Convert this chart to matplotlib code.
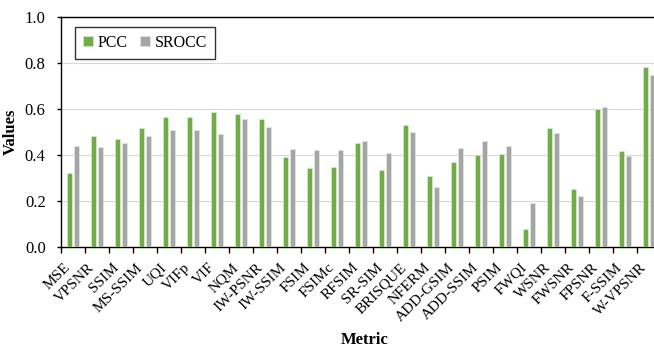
import numpy as np
import matplotlib.pyplot as plt
from matplotlib.ticker import FixedLocator

plt.rcParams["font.family"] = ["Liberation Serif", "DejaVu Serif"]

metrics = ["MSE", "VPSNR", "SSIM", "MS-SSIM", "UQI", "VIFp", "VIF", "NQM",
           "IW-PSNR", "IW-SSIM", "FSIM", "FSIMc", "RFSIM", "SR-SIM", "BRISQUE",
           "NFERM", "ADD-GSIM", "ADD-SSIM", "PSIM", "FWQI", "WSNR", "FWSNR",
           "FPSNR", "F-SSIM", "W-VPSNR"]
pcc = [0.320, 0.483, 0.471, 0.517, 0.564, 0.565, 0.587, 0.577, 0.558, 0.391,
       0.345, 0.346, 0.453, 0.335, 0.532, 0.307, 0.371, 0.400, 0.404, 0.078,
       0.517, 0.254, 0.601, 0.417, 0.783]
srocc = [0.440, 0.435, 0.452, 0.481, 0.510, 0.507, 0.491, 0.558, 0.522, 0.426,
         0.420, 0.423, 0.459, 0.410, 0.499, 0.259, 0.432, 0.459, 0.438, 0.193,
         0.496, 0.220, 0.607, 0.397, 0.748]

GREEN = "#70AD47"
GRAY = "#A5A5A5"

fig = plt.figure(figsize=(6.54, 3.48), dpi=100)
# 右侧略超出画布
ax = fig.add_axes([61 / 654, 101 / 348, 600 / 654, 230 / 348])

x = np.arange(len(metrics))
w = 0.24
ax.bar(x - 0.15, pcc, width=w, color=GREEN, edgecolor="#d9ecd0",
       linewidth=0.5, label="PCC", zorder=3)
ax.bar(x + 0.15, srocc, width=w, color=GRAY, edgecolor="#e6e6e6",
       linewidth=0.5, label="SROCC", zorder=3)

ax.set_xlim(-0.5, len(metrics) - 0.5)
ax.set_ylim(0, 1.0)
ax.set_yticks([0.0, 0.2, 0.4, 0.6, 0.8, 1.0])
ax.set_yticklabels(["0.0", "0.2", "0.4", "0.6", "0.8", "1.0"], fontsize=12)
ax.yaxis.grid(True, color="#d9d9d9", linewidth=0.8, zorder=0)

ax.set_xticks(x)
ax.set_xticklabels(metrics, rotation=45, ha="right", va="top", fontsize=11)
ax.tick_params(axis="x", which="major", length=0, pad=10)
ax.xaxis.set_minor_locator(FixedLocator(np.arange(-0.5, len(metrics), 1.0)))
ax.tick_params(axis="x", which="minor", length=4, width=1, direction="out")
ax.tick_params(axis="y", length=3, width=1, direction="out", pad=8)

for s in ["left", "bottom", "top"]:
    ax.spines[s].set_color("black")
    ax.spines[s].set_linewidth(1.0)
ax.spines["right"].set_visible(False)

ax.set_xlabel("Metric", fontsize=12, fontweight="bold")
ax.xaxis.set_label_coords(0.507, -0.37)
ax.set_ylabel("Values", fontsize=12, fontweight="bold", labelpad=4)

leg = ax.legend(loc="upper left", bbox_to_anchor=(14 / 600, 0.957), ncol=2,
                fontsize=11.5, frameon=True, fancybox=False,
                borderaxespad=0, handlelength=0.6, handleheight=0.6,
                handletextpad=0.3, columnspacing=0.8, borderpad=0.5)
leg.get_frame().set_edgecolor("black")
leg.get_frame().set_linewidth(1.0)

fig.savefig("out.png", dpi=100, facecolor="white")
